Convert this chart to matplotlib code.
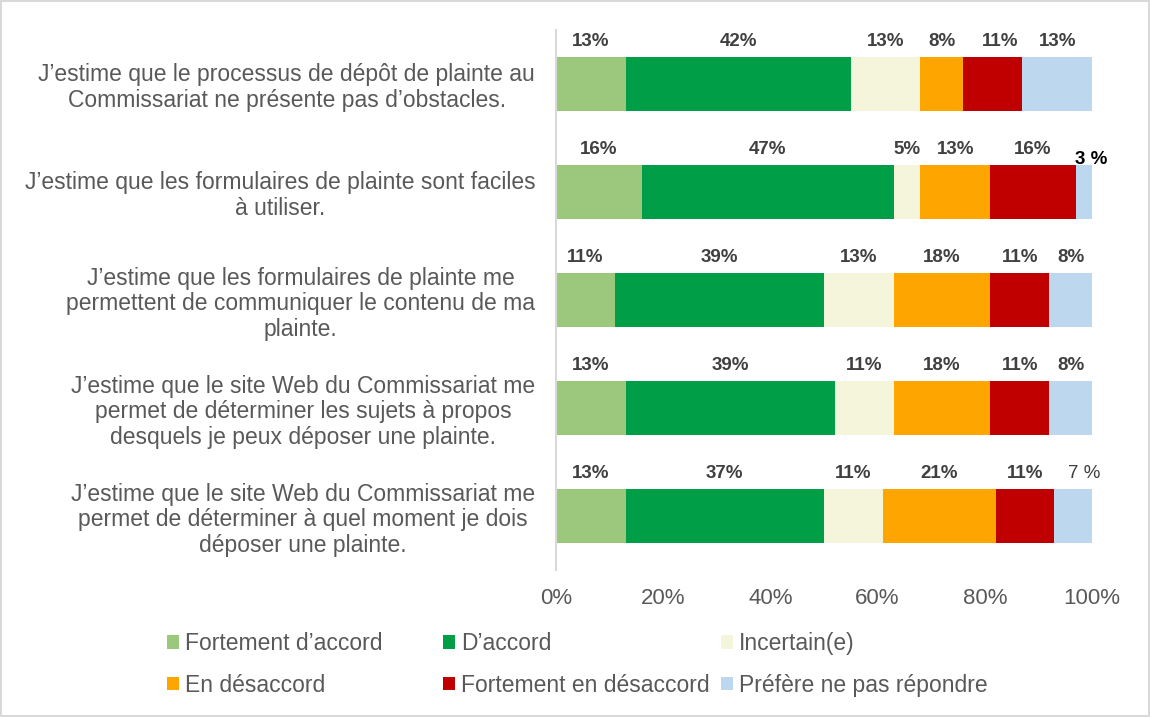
import matplotlib.pyplot as plt
from matplotlib.patches import Patch
import numpy as np

plt.rcParams['font.family'] = ['Liberation Sans', 'DejaVu Sans']

# categories (top to bottom)
questions = [
    "J\u2019estime que le processus de dépôt de plainte au\nCommissariat ne présente pas d\u2019obstacles.",
    "J\u2019estime que les formulaires de plainte sont faciles\nà utiliser.",
    "J\u2019estime que les formulaires de plainte me\npermettent de communiquer le contenu de ma\nplainte.",
    "J\u2019estime que le site Web du Commissariat me\npermet de déterminer les sujets à propos\ndesquels je peux déposer une plainte.",
    "J\u2019estime que le site Web du Commissariat me\npermet de déterminer à quel moment je dois\ndéposer une plainte.",
]

series_names = ["Fortement d\u2019accord", "D\u2019accord", "Incertain(e)",
                "En désaccord", "Fortement en désaccord", "Préfère ne pas répondre"]

# values in % per question, one list per response
fortement_accord = [13, 16, 11, 13, 13]
accord = [42, 47, 39, 39, 37]
incertain = [13, 5, 13, 11, 11]
desaccord = [8, 13, 18, 18, 21]
fortement_desaccord = [11, 16, 11, 11, 11]
prefere = [13, 3, 8, 8, 7]

series = [fortement_accord, accord, incertain, desaccord, fortement_desaccord, prefere]
colors = ["#9BC87C", "#009E47", "#F5F5DC", "#FFA500", "#C00000", "#BDD7EE"]

txt = "#595959"

fig = plt.figure(figsize=(11.5, 7.17), dpi=100)
fig.patch.set_edgecolor("#D9D9D9")
fig.patch.set_linewidth(1.5)
ax = fig.add_axes([556/1150, 1 - 570/717, 536/1150, 540/717])

y = np.arange(len(questions))
left = np.zeros(len(questions))
for k, vals in enumerate(series):
    vals = np.array(vals, dtype=float)
    ax.barh(y, vals, left=left, height=0.5, color=colors[k], label=series_names[k])
    for i, v in enumerate(vals):
        lbl = f"{int(v)}%"
        dx, dy = 0, 5
        weight, col = "bold", "#404040"
        if k == 5 and i == 1:
            lbl, dx, dy, col = "3 %", 5, -2, "black"
        if k == 5 and i == 4:
            lbl, dx, weight = "7 %", 8, "normal"
        if k == 4 and i == 0:
            dx = 5
        ax.annotate(lbl, (left[i] + v / 2, y[i] - 0.25), xytext=(dx, dy),
                    textcoords="offset points", ha="center", va="bottom",
                    fontsize=13.5, fontweight=weight, color=col)
    left += vals

ax.set_xlim(0, 100)
ax.set_ylim(4.5, -0.5)
ax.set_xticks(np.arange(0, 101, 20))
ax.set_xticklabels([f"{t}%" for t in range(0, 101, 20)])
ax.set_yticks(y)
ax.set_yticklabels(questions, multialignment="center", linespacing=1.13)
ax.tick_params(axis="x", length=0, labelsize=16, labelcolor=txt, pad=13)
ax.tick_params(axis="y", length=0, labelsize=16.5, labelcolor=txt, pad=15)
for s in ["top", "right", "bottom"]:
    ax.spines[s].set_visible(False)
ax.spines["left"].set_color("#D9D9D9")
ax.spines["left"].set_linewidth(1.5)

# legend: three columns of two rows
col_x = [167, 443, 721]
for c in range(3):
    idx = [c, c + 3]
    handles = [Patch(facecolor=colors[j], edgecolor="none") for j in idx]
    leg = fig.legend(handles, [series_names[j] for j in idx], loc="upper left",
                     bbox_to_anchor=(col_x[c] / 1150, 1 - 632 / 717),
                     frameon=False, fontsize=16.5, handlelength=0.52, handleheight=0.52,
                     handletextpad=0.25, labelspacing=0.82, borderaxespad=0, borderpad=0)
    for t in leg.get_texts():
        t.set_color(txt)

fig.savefig("out.png", dpi=100)
